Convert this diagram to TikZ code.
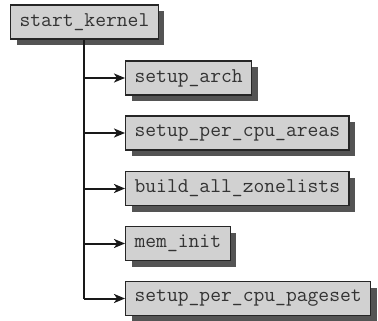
\documentclass[tikz,border=0pt]{standalone}
\usepackage{fontspec}
\usetikzlibrary{arrows.meta,shadows}
\begin{document}
\begin{tikzpicture}[x=1pt,y=-1pt,
  fn/.style={draw=black!85, line width=1.2pt, fill=black!18, minimum height=34pt,
    inner xsep=9pt, inner ysep=0pt, font=\ttfamily\fontsize{21}{22}\selectfont,
    text=black!80, anchor=west,
    drop shadow={shadow xshift=6pt, shadow yshift=-6pt, fill=black!67, opacity=1}},
  trunk/.style={line width=2pt, draw=black!90},
  conn/.style={line width=2pt, draw=black!90, -{Stealth[length=11pt,width=9pt,inset=3pt]}}]
\useasboundingbox (0,0) rectangle (378,321);
\node[fn] (sk) at (10,22) {start\_kernel};
\node[fn] (a) at (125,78) {setup\_arch};
\node[fn] (b) at (125,133) {setup\_per\_cpu\_areas};
\node[fn] (c) at (125,188.5) {build\_all\_zonelists};
\node[fn] (d) at (125,243.5) {mem\_init};
\node[fn] (e) at (125,298.5) {setup\_per\_cpu\_pageset};
\draw[trunk] (sk.south) -- (sk.south |- e.west);
\foreach \n in {a,b,c,d,e}
  \draw[conn] (sk.south |- \n.west) -- (\n.west);
\end{tikzpicture}
\end{document}
